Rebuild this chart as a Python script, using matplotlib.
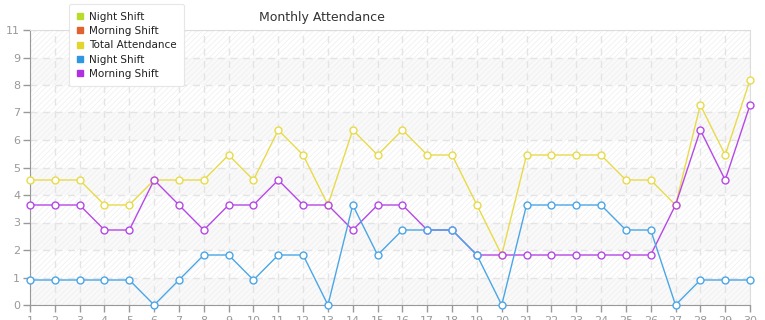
import matplotlib
matplotlib.use('Agg')
import matplotlib.pyplot as plt
from matplotlib.lines import Line2D
import numpy as np

days = list(range(1, 31))
total = [5, 5, 5, 4, 4, 5, 5, 5, 6, 5, 7, 6, 4, 7, 6, 7, 6, 6, 4, 2,
         6, 6, 6, 6, 5, 5, 4, 8, 6, 9]
morning = [4, 4, 4, 3, 3, 5, 4, 3, 4, 4, 5, 4, 4, 3, 4, 4, 3, 3, 2, 2,
           2, 2, 2, 2, 2, 2, 4, 7, 5, 8]
night = [1, 1, 1, 1, 1, 0, 1, 2, 2, 1, 2, 2, 0, 4, 2, 3, 3, 3, 2, 0,
         4, 4, 4, 4, 3, 3, 0, 1, 1, 1]

legend_labels = ['Night Shift', 'Morning Shift', 'Total Attendance', 'Night Shift', 'Morning Shift']
legend_colors = ['#b8db2c', '#e0622e', '#e2d52e', '#2f96e2', '#b12fe2']

y_max = 11
n_bands = 10

plt.rcParams['hatch.linewidth'] = 0.5
plt.rcParams['hatch.color'] = '#ededed'

fig = plt.figure(figsize=(7.65, 3.2), dpi=100)
ax = fig.add_axes([30 / 765, 15 / 320, 720 / 765, 275 / 320])

# alternating bands, all hatched
step = y_max / n_bands
for k in range(n_bands):
    fc = '#f9f9f9' if k % 2 == 0 else 'white'
    ax.axhspan(k * step, (k + 1) * step, facecolor=fc, edgecolor='#efefef',
               hatch='//////', linewidth=0, zorder=0)

series = [(total, '#e8db4a'), (morning, '#b548e6'), (night, '#4ba6e6')]
for vals, c in series:
    ax.plot(days, vals, color=c, lw=1, marker='o', ms=5, mfc='white',
            mec=c, mew=1, zorder=3, clip_on=False)

ax.set_xlim(1, 30)
ax.set_ylim(0, y_max)
yt = [k * step for k in range(n_bands + 1)]
ax.set_yticks(yt)
ax.set_yticklabels([str(int(np.floor(v + 1e-9))) for v in yt])
ax.set_xticks(days)
ax.set_xticklabels([str(d) for d in days])

ax.grid(True, color='#e4e4e4', linestyle=(0, (5, 4)), linewidth=1, zorder=1)
ax.set_axisbelow(True)
ax.tick_params(axis='both', colors='#999999', labelsize=8, length=5, width=1)
ax.tick_params(axis='x', pad=3)
ax.tick_params(axis='y', pad=2)
for s in ['left', 'bottom']:
    ax.spines[s].set_color('#999999')
for s in ['top', 'right']:
    ax.spines[s].set_color('#dddddd')

fig.text(322 / 765, 1 - 17 / 320, 'Monthly Attendance', ha='center', va='center',
         fontsize=9, color='#333333')

handles = [Line2D([], [], marker='s', ls='', color=c, ms=4.5) for c in legend_colors]
leg = fig.legend(handles, legend_labels, loc='upper left',
                 bbox_to_anchor=(64 / 765, 1 + 1 / 320), fontsize=7.5,
                 frameon=True, fancybox=True, handlelength=0.6, handletextpad=0.6,
                 labelspacing=0.42, borderpad=0.7, framealpha=1,
                 edgecolor='#e6e6e6', shadow=False)
leg.get_frame().set_linewidth(0.8)
for t in leg.get_texts():
    t.set_color('#222222')

fig.savefig('out.png', dpi=100)
